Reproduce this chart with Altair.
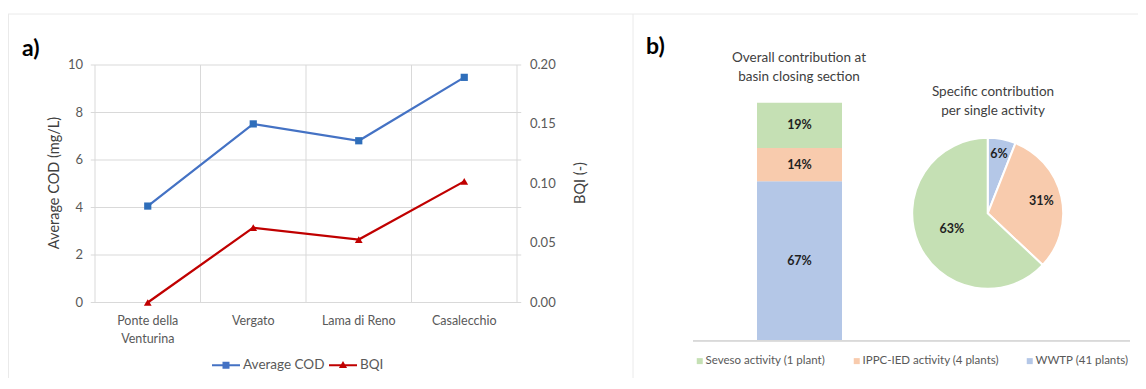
import math
import altair as alt
import pandas as pd

# ---------------- data ----------------
site_labels = ["Ponte della\nVenturina", "Vergato", "Lama di Reno", "Casalecchio"]
site_index = [0, 1, 2, 3]
cod_values = [4.06, 7.52, 6.81, 9.48]
bqi_values = [0.0, 0.063, 0.053, 0.102]
cod_ticks = [0, 2, 4, 6, 8, 10]
bqi_ticks = [0.0, 0.05, 0.10, 0.15, 0.20]
series_names = ["Average COD", "BQI"]

activities = ["Seveso activity (1 plant)", "IPPC-IED activity (4 plants)", "WWTP (41 plants)"]
overall_pct = [19, 14, 67]      # bar: overall contribution at basin closing section
specific_pct = [63, 31, 6]      # pie: specific contribution per single activity

# ---------------- styles ----------------
FONT = "Lato"
BLUE_LINE = "#4472C4"
BLUE_MARK = "#2F6EBA"
RED = "#C00000"
GRID = "#D9D9D9"
TICK_TXT = "#595959"
TITLE_TXT = "#404040"
act_colors = ["#C5E0B4", "#F8CBAD", "#B4C7E7"]

W, H = 1130, 370

# ---------------- panel a scales ----------------
xs = alt.Scale(domain=[-0.5, 3.5], range=[87, 509])
ycod = alt.Scale(domain=[0, 10], range=[294.5, 57])
ybqi = alt.Scale(domain=[0, 0.2], range=[294.5, 57])

df_line = pd.DataFrame({"idx": site_index, "label": site_labels,
                        "cod": cod_values, "bqi": bqi_values})
df_cod_ticks = pd.DataFrame({"v": cod_ticks, "t": [str(v) for v in cod_ticks]})
df_bqi_ticks = pd.DataFrame({"v": bqi_ticks, "t": [f"{v:.2f}" for v in bqi_ticks]})
df_vlines = pd.DataFrame({"p": [-0.5, 0.5, 1.5, 2.5, 3.5]})

hgrid = alt.Chart(df_cod_ticks).mark_rule(color=GRID, strokeWidth=1).encode(
    x=alt.X(datum=-0.54, type="quantitative", scale=xs, axis=None),
    x2=alt.X2(datum=3.54),
    y=alt.Y("v:Q", scale=ycod, axis=None),
)
vgrid = alt.Chart(df_vlines).mark_rule(color=GRID, strokeWidth=1).encode(
    x=alt.X("p:Q", scale=xs, axis=None),
    y=alt.Y(datum=0, type="quantitative", scale=ycod, axis=None),
    y2=alt.Y2(datum=10),
)
left_labels = alt.Chart(df_cod_ticks).mark_text(
    align="right", baseline="middle", dx=-12, fontSize=13, color=TICK_TXT, font=FONT
).encode(
    x=alt.X(datum=-0.5, type="quantitative", scale=xs, axis=None),
    y=alt.Y("v:Q", scale=ycod, axis=None),
    text="t:N",
)
right_labels = alt.Chart(df_bqi_ticks).mark_text(
    align="left", baseline="middle", dx=13, fontSize=13, color=TICK_TXT, font=FONT
).encode(
    x=alt.X(datum=3.5, type="quantitative", scale=xs, axis=None),
    y=alt.Y("v:Q", scale=ybqi, axis=None),
    text="t:N",
)
x_labels = alt.Chart(df_line).mark_text(
    align="center", baseline="middle", dy=18, fontSize=12.5, color=TICK_TXT,
    font=FONT, lineBreak="\n", lineHeight=18
).encode(
    x=alt.X("idx:Q", scale=xs, axis=None),
    y=alt.Y(datum=0, type="quantitative", scale=ycod, axis=None),
    text="label:N",
)
cod_line = alt.Chart(df_line).mark_line(color=BLUE_LINE, strokeWidth=2.25).encode(
    x=alt.X("idx:Q", scale=xs, axis=None),
    y=alt.Y("cod:Q", scale=ycod, axis=None),
)
cod_pts = alt.Chart(df_line).mark_point(
    shape="square", filled=True, size=52, color=BLUE_MARK, opacity=1
).encode(
    x=alt.X("idx:Q", scale=xs, axis=None),
    y=alt.Y("cod:Q", scale=ycod, axis=None),
)
bqi_line = alt.Chart(df_line).mark_line(color=RED, strokeWidth=2.25).encode(
    x=alt.X("idx:Q", scale=xs, axis=None),
    y=alt.Y("bqi:Q", scale=ybqi, axis=None),
)
bqi_pts = alt.Chart(df_line).mark_point(
    shape="triangle-up", filled=True, size=60, color=RED, opacity=1
).encode(
    x=alt.X("idx:Q", scale=xs, axis=None),
    y=alt.Y("bqi:Q", scale=ybqi, axis=None),
)

# legend for panel a (symbols: line + marker)
path_sq = "M-1,-0.08L1,-0.08L1,0.08L-1,0.08Z M-0.25,-0.25L0.25,-0.25L0.25,0.25L-0.25,0.25Z"
path_tri = "M-1,-0.08L1,-0.08L1,0.08L-1,0.08Z M-0.29,0.2L0,-0.3L0.29,0.2Z"
leg_a = alt.Legend(
    title=None, orient="none", legendX=204, legendY=343, direction="horizontal",
    symbolSize=784, symbolStrokeWidth=0, labelOffset=3, columnPadding=4,
    labelFontSize=13.5, labelColor=TICK_TXT, labelFont=FONT, padding=0,
)
legend_a = alt.Chart(pd.DataFrame({"series": series_names})).transform_filter(
    "false"
).mark_point(filled=True, opacity=1).encode(
    color=alt.Color("series:N", scale=alt.Scale(domain=series_names, range=[BLUE_LINE, RED]),
                    legend=leg_a),
    shape=alt.Shape("series:N", scale=alt.Scale(domain=series_names, range=[path_sq, path_tri]),
                    legend=leg_a),
)

txt_a = alt.Chart(pd.DataFrame({"t": ["a)"]})).mark_text(
    align="left", baseline="alphabetic", fontSize=23, fontWeight="bold", color="#000000", font=FONT
).encode(x=alt.value(14), y=alt.value(48), text="t:N")
title_left = alt.Chart(pd.DataFrame({"t": ["Average COD (mg/L)"]})).mark_text(
    angle=270, align="center", baseline="middle", fontSize=14.5, color=TITLE_TXT, font=FONT
).encode(x=alt.value(47), y=alt.value(175), text="t:N")
title_right = alt.Chart(pd.DataFrame({"t": ["BQI (-)"]})).mark_text(
    angle=270, align="center", baseline="middle", fontSize=14.5, color=TITLE_TXT, font=FONT
).encode(x=alt.value(573), y=alt.value(175), text="t:N")

# ---------------- panel b ----------------
stack_order = ["WWTP (41 plants)", "IPPC-IED activity (4 plants)", "Seveso activity (1 plant)"]
val_bar = dict(zip(activities, overall_pct))
val_pie = dict(zip(activities, specific_pct))

rows = []
c = 0
for a in stack_order:
    v = val_bar[a]
    rows.append({"activity": a, "section": "basin", "y0": c, "y1": c + v,
                 "mid": c + v / 2, "lab": f"{v}%"})
    c += v
df_bar = pd.DataFrame(rows)

label_r = {"WWTP (41 plants)": 60, "IPPC-IED activity (4 plants)": 55,
           "Seveso activity (1 plant)": 39}
rows = []
c = 0
for a in stack_order:
    v = val_pie[a]
    rows.append({"activity": a, "t0": c, "t1": c + v, "tm": c + v / 2,
                 "lab": f"{v}%", "r": label_r[a]})
    c += v
df_pie = pd.DataFrame(rows)

xb = alt.Scale(domain=["basin"], range=[749, 834], paddingInner=0, paddingOuter=0)
yb = alt.Scale(domain=[0, 100], range=[332.7, 94.7])
act_scale = alt.Scale(domain=activities, range=act_colors)
th = alt.Scale(domain=[0, 100], range=[0, 2 * math.pi])

leg_b = alt.Legend(
    title=None, orient="none", legendX=686, legendY=347, direction="horizontal",
    symbolType="square", symbolSize=36, symbolStrokeWidth=0, labelOffset=0,
    columnPadding=25, labelFontSize=11.5, labelColor=TICK_TXT, labelFont=FONT,
    padding=0, labelLimit=300,
)
bar = alt.Chart(df_bar).mark_bar().encode(
    x=alt.X("section:N", scale=xb, axis=None),
    y=alt.Y("y0:Q", scale=yb, axis=None, stack=False),
    y2="y1:Q",
    color=alt.Color("activity:N", scale=act_scale, legend=leg_b),
)
bar_txt = alt.Chart(df_bar).mark_text(
    fontSize=12.5, fontWeight="bold", color="#1F1F1F", font=FONT, baseline="middle"
).encode(
    x=alt.X("section:N", scale=xb, axis=None),
    y=alt.Y("mid:Q", scale=yb, axis=None),
    text="lab:N",
)
baseline = alt.Chart(df_bar).mark_rule(color=GRID, strokeWidth=1.5).encode(
    y=alt.Y(datum=0, type="quantitative", scale=yb, axis=None),
    x=alt.value(685), x2=alt.value(1122),
)
pie = alt.Chart(df_pie).mark_arc(outerRadius=75.5, stroke="#FFFFFF", strokeWidth=2).encode(
    theta=alt.Theta("t0:Q", scale=th, stack=False),
    theta2="t1:Q",
    color=alt.Color("activity:N", scale=act_scale, legend=None),
    x=alt.value(979.7), y=alt.value(205.3),
)
pie_txt = alt.Chart(df_pie).mark_text(
    fontSize=12.5, fontWeight="bold", color="#1F1F1F", font=FONT,
    align="center", baseline="middle"
).encode(
    theta=alt.Theta("tm:Q", scale=th, stack=False),
    radius=alt.Radius("r:Q", scale=None),
    x=alt.value(979.7), y=alt.value(205.3),
    text="lab:N",
)
txt_b = alt.Chart(pd.DataFrame({"t": ["b)"]})).mark_text(
    align="left", baseline="alphabetic", fontSize=23, fontWeight="bold", color="#000000", font=FONT
).encode(x=alt.value(638), y=alt.value(46), text="t:N")
title_bar = alt.Chart(pd.DataFrame({"t": ["Overall contribution at\nbasin closing section"]})).mark_text(
    align="center", baseline="middle", fontSize=13.5, color=TITLE_TXT, font=FONT,
    lineBreak="\n", lineHeight=19
).encode(x=alt.value(791), y=alt.value(50), text="t:N")
title_pie = alt.Chart(pd.DataFrame({"t": ["Specific contribution\nper single activity"]})).mark_text(
    align="center", baseline="middle", fontSize=13.5, color=TITLE_TXT, font=FONT,
    lineBreak="\n", lineHeight=19
).encode(x=alt.value(985), y=alt.value(84), text="t:N")

# panel frames
frame = alt.Chart(pd.DataFrame({"k": [0]})).mark_rule(color="#EAEAEA", strokeWidth=1).encode(
    x=alt.value(0), x2=alt.value(W), y=alt.value(6)
)
frame_sep = alt.Chart(pd.DataFrame({"k": [0]})).mark_rule(color="#EAEAEA", strokeWidth=1).encode(
    x=alt.value(625), y=alt.value(6), y2=alt.value(H)
)
frame_left = alt.Chart(pd.DataFrame({"k": [0]})).mark_rule(color="#EAEAEA", strokeWidth=1).encode(
    x=alt.value(0.5), y=alt.value(6), y2=alt.value(H)
)

chart = alt.layer(
    frame, frame_sep, frame_left,
    hgrid, vgrid, left_labels, right_labels, x_labels,
    cod_line, bqi_line, cod_pts, bqi_pts, legend_a,
    txt_a, title_left, title_right,
    bar, bar_txt, baseline, pie, pie_txt, txt_b, title_bar, title_pie,
).resolve_scale(
    x="independent", y="independent", color="independent", shape="independent",
    theta="independent", radius="independent",
).properties(
    width=W, height=H, autosize=alt.AutoSizeParams(type="none"), padding=0,
    background="#FFFFFF",
).configure_view(stroke=None).configure_text(font=FONT)

chart.save("out.html", embed_options={"renderer": "svg", "actions": False})
